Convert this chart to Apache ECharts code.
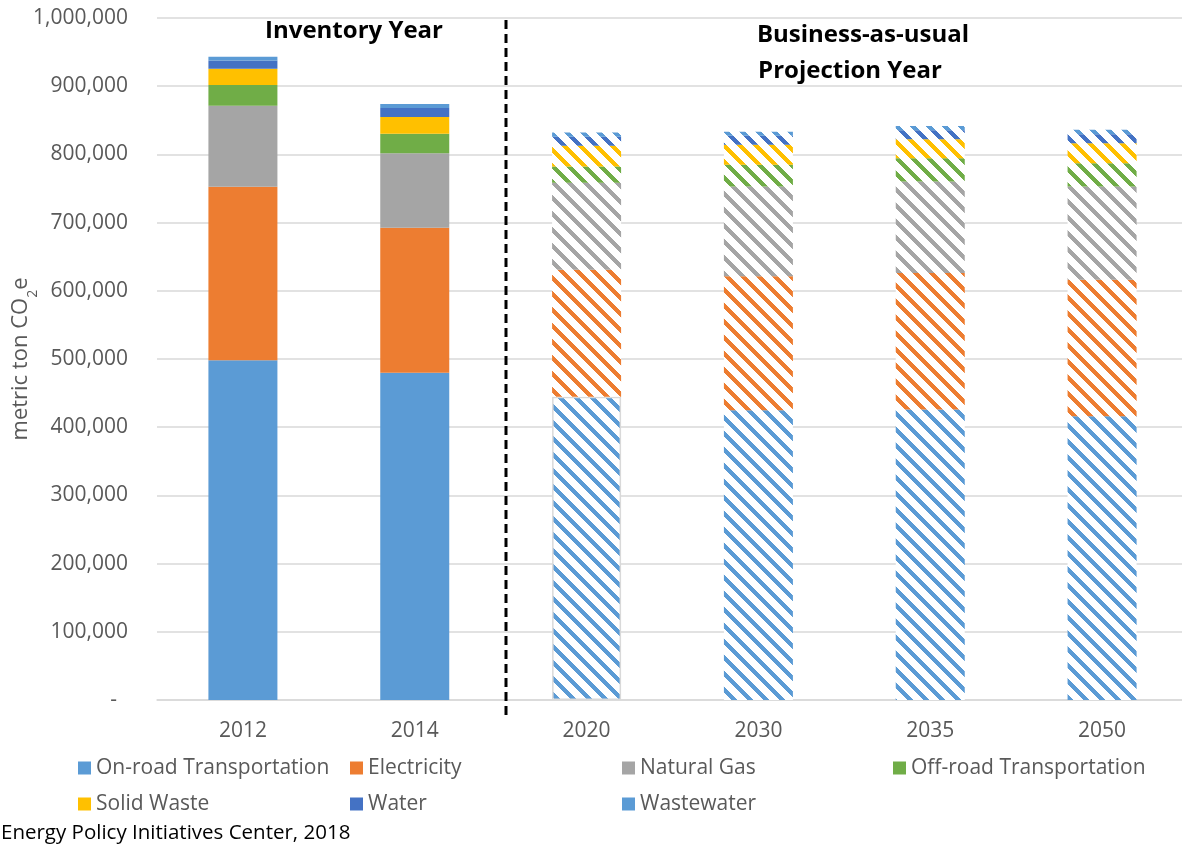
<!DOCTYPE html>
<html>
<head>
<meta charset="utf-8">
<script src="https://cdn.jsdelivr.net/npm/echarts@6/dist/echarts.min.js"></script>
<style>
html,body{margin:0;padding:0;background:#fff;}
#chart{width:1182px;height:849px;}
</style>
</head>
<body>
<div id="chart"></div>
<script>
// ---- data (metric ton CO2e) ----
const categories = ['2012', '2014', '2020', '2030', '2035', '2050'];
const firstProjectionIndex = 2;
const onRoad      = [498000, 480000, 444600, 425000, 426000, 416200];
const electricity = [254700, 212300, 186400, 196200, 200100, 200100];
const naturalGas  = [118600, 109400, 127400, 131800, 134100, 136600];
const offRoad     = [30300, 28700, 23900, 31800, 34300, 34300];
const solidWaste  = [23900, 24500, 30300, 29300, 27800, 29300];
const water       = [12200, 13200, 13200, 13200, 13200, 13200];
const wastewater  = [5400, 5900, 6300, 5900, 6300, 6300];
const yTicks = { min: 0, max: 1000000, interval: 100000 };
const seriesNames = ['On-road Transportation', 'Electricity', 'Natural Gas', 'Off-road Transportation', 'Solid Waste', 'Water', 'Wastewater'];
const seriesValues = [onRoad, electricity, naturalGas, offRoad, solidWaste, water, wastewater];
const seriesColors = ['#5B9BD5', '#ED7D31', '#A5A5A5', '#70AD47', '#FFC000', '#4472C4', '#5B9BD5'];

function hatch(color) {
  const c = document.createElement('canvas');
  c.width = 16; c.height = 16;
  const ctx = c.getContext('2d');
  ctx.fillStyle = '#ffffff';
  ctx.fillRect(0, 0, 16, 16);
  ctx.fillStyle = color;
  for (let y = 0; y < 16; y++) {
    for (let x = 0; x < 16; x++) {
      if ((((x - y) % 16) + 16) % 16 < 6) ctx.fillRect(x, y, 1, 1);
    }
  }
  return c;
}

const FONT = '"Open Sans", "Liberation Sans", sans-serif';
const GRAY = '#595959';

const series = seriesNames.map((name, si) => {
  const pat = hatch(seriesColors[si]);
  return {
    name: name,
    type: 'bar',
    stack: 'total',
    barWidth: 69,
    itemStyle: { color: seriesColors[si] },
    emphasis: { disabled: true },
    data: seriesValues[si].map((v, i) => {
      if (i < firstProjectionIndex) return v;
      const item = { value: v, itemStyle: { color: { image: pat, repeat: 'repeat' } } };
      if (si === 0 && i === firstProjectionIndex) {
        item.itemStyle.borderColor = '#D9D9D9';
        item.itemStyle.borderWidth = 1.5;
      }
      return item;
    })
  };
});

const legendCols = [
  { left: 78, data: ['On-road Transportation', 'Solid Waste'] },
  { left: 350, data: ['Electricity', 'Water'] },
  { left: 622, data: ['Natural Gas', 'Wastewater'] },
  { left: 893, data: ['Off-road Transportation'] }
];

const titleStyle = { fill: '#000', fontSize: 24, fontWeight: 'bold', fontFamily: FONT, align: 'center', verticalAlign: 'middle' };

const chart = echarts.init(document.getElementById('chart'), null, { renderer: 'canvas' });
chart.setOption({
  animation: false,
  backgroundColor: '#ffffff',
  grid: { left: 157, width: 1031, top: 18, bottom: 149, containLabel: false, outerBoundsMode: 'none' },
  xAxis: {
    type: 'category',
    data: categories,
    axisLine: { show: true, lineStyle: { color: '#D9D9D9', width: 1.5 } },
    axisTick: { show: false },
    axisLabel: { color: GRAY, fontSize: 21, fontFamily: FONT, margin: 21 }
  },
  yAxis: {
    type: 'value',
    min: yTicks.min, max: yTicks.max, interval: yTicks.interval,
    axisLine: { show: false },
    axisTick: { show: false },
    splitLine: { lineStyle: { color: '#D9D9D9', width: 1.5 } },
    axisLabel: {
      color: GRAY, fontSize: 21, fontFamily: FONT, margin: 29,
      formatter: v => v === 0 ? '-  ' : v.toLocaleString('en-US')
    },
    name: '{a|metric ton CO}{b|2}{a|e}',
    nameLocation: 'middle',
    nameRotate: 90,
    nameGap: 117,
    nameMoveOverlap: false,
    nameTextStyle: {
      rich: {
        a: { color: GRAY, fontSize: 22, fontFamily: FONT, lineHeight: 30, verticalAlign: 'top' },
        b: { color: GRAY, fontSize: 14, fontFamily: FONT, lineHeight: 14, verticalAlign: 'bottom' }
      }
    }
  },
  legend: legendCols.map(col => ({
    orient: 'vertical',
    left: col.left,
    top: 756,
    padding: 0,
    itemWidth: 13,
    itemHeight: 13,
    itemGap: 12,
    selectedMode: false,
    icon: 'rect',
    data: col.data,
    textStyle: { color: GRAY, fontSize: 21, fontFamily: FONT, lineHeight: 24 }
  })),
  series: series,
  graphic: [
    {
      type: 'text', left: 1, top: 823,
      style: { text: 'Energy Policy Initiatives Center, 2018', fill: '#000', fontSize: 20.5, fontFamily: FONT }
    },
    { type: 'text', x: 354, y: 31, style: Object.assign({ text: 'Inventory Year' }, titleStyle) },
    { type: 'text', x: 863, y: 35, style: Object.assign({ text: 'Business-as-usual' }, titleStyle) },
    { type: 'text', x: 850, y: 71, style: Object.assign({ text: 'Projection Year' }, titleStyle) }
  ]
});

// dashed separator between inventory years and projection years
const p1 = chart.convertToPixel({ xAxisIndex: 0 }, categories[firstProjectionIndex - 1]);
const p2 = chart.convertToPixel({ xAxisIndex: 0 }, categories[firstProjectionIndex]);
const sepX = Math.round((p1 + p2) / 2 + (p2 - p1) * 0.03);
const yTop = chart.convertToPixel({ yAxisIndex: 0 }, yTicks.max);
const yBot = chart.convertToPixel({ yAxisIndex: 0 }, yTicks.min);
chart.setOption({
  graphic: [
    {}, {}, {}, {},
    {
      type: 'line',
      shape: { x1: sepX, y1: yTop + 2, x2: sepX, y2: yBot + 20 },
      style: { stroke: '#000', lineWidth: 3, lineDash: [9, 5] },
      z: 10
    }
  ]
});
</script>
</body>
</html>
